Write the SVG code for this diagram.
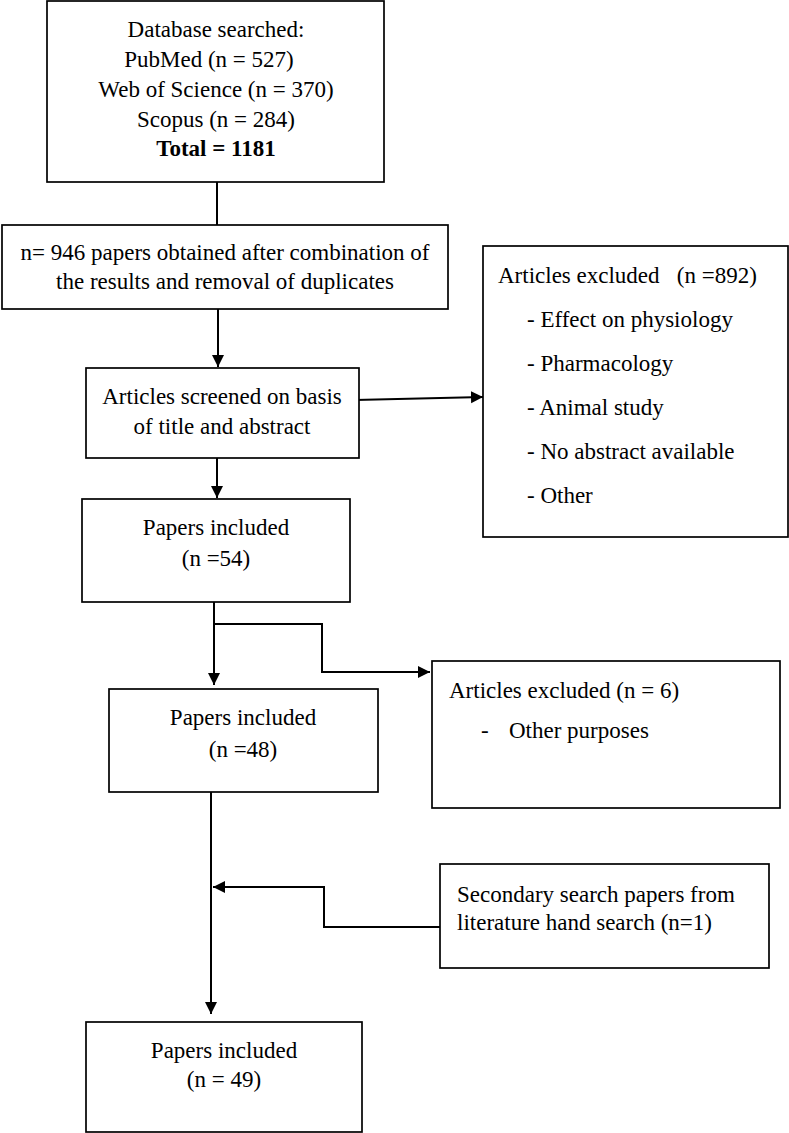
<svg xmlns="http://www.w3.org/2000/svg" width="789" height="1133" viewBox="0 0 789 1133">
<style>
.box{fill:#fff;stroke:#000;stroke-width:1.7}
.t{font-family:"Liberation Serif","Times New Roman",serif;font-size:23px;fill:#000}
.c{text-anchor:middle}
.b{font-weight:bold}
.ln{fill:none;stroke:#000;stroke-width:2}
</style>
<defs>
<marker id="ah" markerUnits="userSpaceOnUse" markerWidth="13" markerHeight="13" refX="12" refY="6" orient="auto">
<path d="M0,0 L12,6 L0,12 z" fill="#000"/>
</marker>
</defs>
<rect width="789" height="1133" fill="#fff"/>
<g id="connectors">
<line class="ln" x1="217" y1="172" x2="217" y2="225"/>
<line class="ln" x1="218" y1="309" x2="218" y2="367" marker-end="url(#ah)"/>
<line class="ln" x1="355" y1="400" x2="483" y2="397" marker-end="url(#ah)"/>
<line class="ln" x1="217" y1="458" x2="217" y2="498" marker-end="url(#ah)"/>
<line class="ln" x1="214" y1="598" x2="214" y2="685" marker-end="url(#ah)"/>
<polyline class="ln" points="214,624 322,624 322,672 430,672" marker-end="url(#ah)"/>
<line class="ln" x1="211" y1="792" x2="211" y2="1014" marker-end="url(#ah)"/>
<polyline class="ln" points="440,927 324,927 324,887 213,887" marker-end="url(#ah)"/>
</g>
<g id="n1">
<rect class="box" x="47" y="1" width="337" height="181"/>
<text class="t c" x="216" y="37">Database searched:</text>
<text class="t c" x="209" y="67">PubMed (n = 527)</text>
<text class="t c" x="216" y="97">Web of Science (n = 370)</text>
<text class="t c" x="216" y="127">Scopus (n = 284)</text>
<text class="t c b" x="216" y="156">Total = 1181</text>
</g>
<g id="n2">
<rect class="box" x="2" y="225" width="446" height="84"/>
<text class="t c" x="225" y="260">n= 946 papers obtained after combination of</text>
<text class="t c" x="225" y="289">the results and removal of duplicates</text>
</g>
<g id="n3">
<rect class="box" x="86" y="368" width="273" height="90"/>
<text class="t c" x="222" y="404">Articles screened on basis</text>
<text class="t c" x="222" y="434">of title and abstract</text>
</g>
<g id="n4">
<rect class="box" x="483" y="246" width="305" height="291"/>
<text class="t" x="498" y="283" xml:space="preserve">Articles excluded   (n =892)</text>
<text class="t" x="527" y="327">- Effect on physiology</text>
<text class="t" x="527" y="371">- Pharmacology</text>
<text class="t" x="527" y="415">- Animal study</text>
<text class="t" x="527" y="459">- No abstract available</text>
<text class="t" x="527" y="503">- Other</text>
</g>
<g id="n5">
<rect class="box" x="82" y="499" width="268" height="103"/>
<text class="t c" x="216" y="535">Papers included</text>
<text class="t c" x="216" y="566">(n =54)</text>
</g>
<g id="n6">
<rect class="box" x="432" y="661" width="348" height="147"/>
<text class="t" x="449" y="698">Articles excluded (n = 6)</text>
<text class="t" x="481" y="738">-</text>
<text class="t" x="509" y="738">Other purposes</text>
</g>
<g id="n7">
<rect class="box" x="109" y="689" width="269" height="103"/>
<text class="t c" x="243" y="725">Papers included</text>
<text class="t c" x="243" y="757">(n =48)</text>
</g>
<g id="n8">
<rect class="box" x="440" y="864" width="329" height="104"/>
<text class="t" x="457" y="902">Secondary search papers from</text>
<text class="t" x="457" y="930">literature hand search (n=1)</text>
</g>
<g id="n9">
<rect class="box" x="86" y="1022" width="276" height="110"/>
<text class="t c" x="224" y="1058">Papers included</text>
<text class="t c" x="224" y="1087">(n = 49)</text>
</g>
</svg>
